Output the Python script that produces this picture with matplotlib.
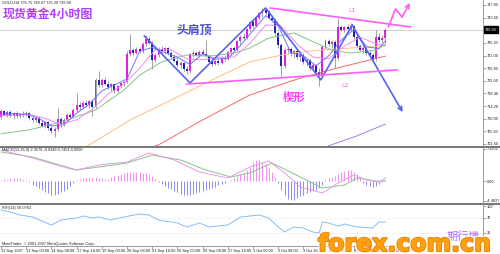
import matplotlib
matplotlib.use("Agg")
import matplotlib.pyplot as plt
import numpy as np
from matplotlib import patheffects
from matplotlib.lines import Line2D

# ---- candles (4h gold), bar index 0..122 ----
opens = [710.5, 712.4, 711.3, 712.2, 711.0, 711.8, 710.8, 711.6, 711.2, 712.0,
         710.1, 709.6, 710.3, 708.7, 707.6, 708.8, 706.9, 705.8, 706.5, 709.8,
         708.1, 709.7, 711.2, 710.5, 712.9, 714.6, 713.8, 715.2, 714.5, 715.8,
         713.9, 722.8, 721.3, 722.9, 721.7, 720.4, 721.5, 719.3, 720.8, 721.9,
         722.2, 731.6, 732.8, 731.9, 733.2, 732.4, 735.0, 736.6, 735.3, 729.4,
         731.3, 733.2, 732.6, 733.4, 731.8, 730.4, 729.2, 727.9, 728.6, 726.5,
         725.7, 731.4, 731.9, 731.2, 732.1, 731.5, 731.0, 728.9, 728.3, 729.2,
         728.6, 730.3, 729.8, 732.1, 733.5, 733.0, 735.7, 737.2, 736.8, 739.8,
         742.0, 740.9, 743.5, 745.0, 746.3, 745.1, 743.6, 742.8, 738.4, 734.4,
         727.6, 732.9, 733.3, 731.6, 732.4, 730.5, 731.2, 728.8, 729.4, 726.9,
         727.7, 725.4, 724.3, 733.9, 735.9, 735.0, 735.6, 730.2, 740.4, 739.6,
         740.5, 739.9, 740.8, 737.2, 734.1, 733.0, 733.6, 731.8, 731.2, 729.8,
         737.3, 736.2, 736.75]
closes = [712.4, 711.3, 712.2, 711.0, 711.8, 710.8, 711.6, 711.2, 712.0, 710.1,
          709.6, 710.3, 708.7, 707.6, 708.8, 706.9, 705.8, 706.5, 709.8, 708.1,
          709.7, 711.2, 710.5, 712.9, 714.6, 713.8, 715.2, 714.5, 715.8, 713.9,
          722.8, 721.3, 722.9, 721.7, 720.4, 721.5, 719.3, 720.8, 721.9, 722.2,
          731.6, 732.8, 731.9, 733.2, 732.4, 735.0, 736.6, 735.3, 729.4, 731.3,
          733.2, 732.6, 733.4, 731.8, 730.4, 729.2, 727.9, 728.6, 726.5, 725.7,
          731.4, 731.9, 731.2, 732.1, 731.5, 731.0, 728.9, 728.3, 729.2, 728.6,
          730.3, 729.8, 732.1, 733.5, 733.0, 735.7, 737.2, 736.8, 739.8, 742.0,
          740.9, 743.5, 745.0, 746.3, 745.1, 743.6, 742.8, 738.4, 734.4, 727.6,
          732.9, 733.3, 731.6, 732.4, 730.5, 731.2, 728.8, 729.4, 726.9, 727.7,
          725.4, 724.3, 733.9, 735.9, 735.0, 735.6, 730.2, 740.4, 739.6, 740.5,
          739.9, 740.8, 737.2, 734.1, 733.0, 733.6, 731.8, 731.2, 729.8, 737.3,
          736.2, 736.75, 739.6]
highs = [713.2, 713.0, 712.8, 712.9, 712.1, 712.5, 712.0, 712.4, 712.6, 712.3,
         711.2, 710.9, 711.0, 709.5, 709.3, 709.4, 707.8, 707.2, 713.5, 710.5,
         710.2, 711.8, 712.0, 713.4, 718.5, 715.5, 715.8, 716.1, 716.3, 716.4,
         723.5, 726.0, 723.4, 723.8, 722.6, 721.9, 722.0, 721.2, 722.3, 722.5,
         732.4, 738.0, 733.5, 733.7, 734.0, 735.5, 737.9, 737.4, 735.8, 731.8,
         733.9, 734.1, 733.8, 734.0, 732.5, 731.2, 730.4, 729.2, 729.0, 727.6,
         731.9, 732.9, 732.6, 732.7, 733.2, 736.0, 731.6, 730.1, 729.6, 729.8,
         730.8, 731.2, 732.6, 733.9, 734.2, 736.1, 737.8, 738.4, 740.3, 742.6,
         743.2, 743.9, 745.6, 746.9, 746.8, 746.0, 744.5, 743.5, 739.0, 735.2,
         733.5, 734.0, 733.8, 733.0, 733.1, 731.8, 731.7, 730.0, 729.9, 728.4,
         728.2, 726.8, 734.5, 736.6, 736.4, 736.2, 736.0, 743.6, 741.3, 740.9,
         741.4, 741.8, 741.2, 737.8, 735.0, 734.2, 734.0, 732.9, 731.9, 739.5,
         738.6, 737.8, 740.07]
lows = [709.8, 710.9, 710.6, 710.5, 709.9, 710.3, 710.1, 710.7, 710.8, 709.6,
        709.0, 708.8, 708.2, 707.1, 707.0, 706.2, 705.1, 703.9, 705.9, 707.4,
        707.5, 709.0, 709.9, 710.2, 712.3, 713.0, 713.1, 714.0, 713.7, 710.8,
        713.5, 720.6, 720.5, 721.2, 719.8, 719.1, 718.6, 718.9, 720.2, 720.9,
        721.8, 730.9, 731.2, 731.4, 731.8, 732.0, 734.2, 734.8, 726.5, 728.9,
        730.6, 732.0, 731.5, 731.3, 729.9, 728.7, 727.3, 726.8, 725.9, 724.8,
        725.3, 730.6, 730.8, 730.5, 731.0, 730.4, 728.4, 727.6, 727.9, 727.8,
        728.1, 729.2, 729.4, 731.3, 732.4, 732.6, 735.0, 736.1, 736.4, 739.1,
        740.3, 740.5, 742.8, 743.9, 744.4, 743.0, 742.0, 737.6, 733.6, 723.9,
        727.0, 731.5, 731.0, 730.2, 730.0, 729.3, 728.2, 727.6, 726.3, 726.2,
        724.9, 721.0, 723.8, 733.2, 734.3, 733.5, 726.9, 729.6, 739.0, 738.8,
        739.4, 739.2, 736.5, 733.5, 732.4, 731.9, 731.3, 730.4, 729.2, 729.1,
        735.6, 735.5, 735.3]
last_price = 739.60

# ---- moving averages (bar, price) ----
ma_fast_bars = [0, 4, 8, 12, 16, 20, 24, 28, 32, 36, 40, 44, 48, 52, 56, 60,
                64, 68, 72, 76, 80, 84, 88, 92, 96, 100, 104, 108, 112, 116, 120, 122]
ma_fast = [711.5, 711.7, 711.5, 710.1, 707.6, 708.0, 711.8, 714.8, 719.3, 721.2,
           723.2, 732.4, 733.7, 732.0, 730.5, 728.0, 731.6, 729.8, 730.0, 734.3,
           739.3, 744.2, 740.9, 732.0, 730.9, 727.6, 730.9, 736.2, 739.6, 733.9,
           733.3, 735.9]
ma_mid_bars = [0, 9, 14, 19, 24, 29, 34, 39, 44, 49, 54, 59, 64, 69, 74, 79,
               84, 89, 94, 99, 104, 109, 114, 119, 122]
ma_mid = [711.0, 711.4, 710.1, 708.2, 709.6, 713.2, 718.2, 721.5, 726.8, 733.0,
          732.9, 729.9, 729.6, 730.4, 730.5, 735.0, 741.2, 740.8, 734.8, 730.5,
          729.9, 734.1, 737.1, 734.9, 734.3]
ma_green_bars = [0, 9, 19, 30, 39, 44, 51, 59, 66, 74, 79, 85, 93, 105, 111, 119, 122]
ma_green = [705.0, 706.3, 708.9, 712.9, 719.5, 724.5, 728.9, 731.2, 730.8, 731.8,
            733.5, 736.8, 738.5, 732.8, 731.8, 732.8, 734.8]
ma_orange_bars = [18, 28, 41, 54, 67, 79, 92, 101, 111, 122]
ma_orange = [696.0, 701.3, 709.6, 716.2, 722.9, 728.9, 731.8, 732.8, 733.5, 734.2]
ma_red_bars = [40, 50, 64, 79, 95, 108, 122]
ma_red = [697.5, 701.3, 709.6, 717.9, 723.5, 727.2, 730.8]
ma_purple_bars = [100, 104, 113, 122]
ma_purple = [699.0, 701.0, 704.3, 708.2]

# ---- hand-drawn pattern lines (bar, price) ----
hs_bars = [45.5, 60, 84, 101.5, 111.5, 127.5]
hs_prices = [737.5, 721.9, 746.8, 722.9, 741.1, 712.2]
l1_bars = [85.5, 130]
l1_prices = [746.8, 740.5]
l2_bars = [59, 125.7]
l2_prices = [721.5, 726.2]
up_bars = [123, 125.2, 127.3, 129.8]
up_prices = [740.5, 746.5, 743.8, 748.5]

# ---- MACD ----
macd_hist = [0.3, 0.4, 0.3, 0.5, 0.6, 0.7, 0.6, 0.5, 0.3, -0.3,
             -0.8, -1.2, -1.6, -2.0, -2.4, -2.8, -3.1, -3.2, -2.9, -2.6,
             -2.2, -1.7, -1.1, -0.5, 0.2, 0.4, 0.6, 0.7, 0.8, 0.9,
             0.8, 0.7, 0.6, 0.4, 0.5, 0.9, 1.2, 1.4, 1.6, 1.8,
             2.0, 2.0, 2.0, 2.0, 2.0, 1.9, 1.8, 1.6, 1.2, 0.5,
             -0.3, -0.7, -1.1, -1.5, -1.9, -2.3, -2.6, -2.9, -3.1, -3.2,
             -3.2, -3.0, -2.8, -2.6, -2.3, -2.0, -1.8, -1.6, -1.3, -1.0,
             -0.7, -0.4, -0.1, 0.3, 0.7, 1.1, 1.5, 1.9, 2.5, 3.2,
             4.3, 4.8, 4.7, 4.4, 3.9, 3.0, 2.0, 1.0, -0.5, -2.0,
             -3.2, -4.0, -4.3, -4.2, -3.9, -3.5, -3.1, -2.8, -2.5, -2.2,
             -2.0, -1.6, -1.0, 0.3, 0.6, 1.0, 1.2, 1.6, 2.0, 2.3,
             2.5, 2.5, 2.1, 1.5, 0.8, -0.4, -0.8, -1.1, -1.4, -1.2,
             -0.6, -0.2, 0.3]
macd_a_bars = [0, 10, 21, 24, 31, 40, 47, 55, 63, 72, 79, 85, 90, 95, 102, 107,
               112, 116, 120, 122]
macd_a = [7.04, 5.22, 2.95, 2.50, 3.63, 4.31, 6.36, 4.77, 2.04, 0.68, 3.18,
          4.54, 1.82, -1.36, -2.72, -0.45, 1.36, 0.23, -0.23, 0.68]
macd_b_bars = [0, 10, 24, 31, 40, 48, 57, 65, 73, 79, 86, 95, 102, 109, 113, 119, 122]
macd_b = [6.58, 5.45, 2.50, 3.18, 4.09, 5.90, 4.77, 2.50, 0.91, 1.82, 4.09,
          0.91, -1.59, -0.91, 0.68, 0.0, 0.0]

# ---- RSI(14) ----
rsi_bars = [0, 3, 6, 10, 16, 19, 24, 26, 29, 31, 35, 39, 44, 47, 50, 56, 59, 63,
            66, 72, 76, 79, 82, 85, 88, 90, 93, 96, 99, 101, 102, 104, 107, 109,
            113, 118, 120, 122]
rsi = [89.8, 84.6, 76.8, 71.6, 50.8, 63.8, 69.0, 74.2, 69.0, 71.6, 63.8, 71.6,
       79.4, 76.8, 63.8, 56.0, 45.6, 56.0, 45.6, 50.8, 71.6, 74.2, 76.8, 69.0,
       45.6, 32.6, 45.6, 43.0, 32.6, 30.0, 58.6, 56.0, 48.2, 53.4, 45.6, 43.0,
       58.6, 58.6]

price_ticks = [701.6, 705.8, 710.0, 714.2, 718.4, 722.6, 726.8, 731.0, 735.2, 743.6, 747.8]
date_tick_bars = [0, 8, 16, 24, 32, 40, 48, 56, 64, 72, 80, 88, 96, 104, 112, 120]
date_labels = ["11 Sep 2007", "13 Sep 00:00", "14 Sep 08:00", "17 Sep 16:00",
               "19 Sep 00:00", "20 Sep 08:00", "21 Sep 16:00", "25 Sep 00:00",
               "26 Sep 08:00", "27 Sep 16:00", "1 Oct 00:00", "2 Oct 08:00",
               "3 Oct 16:00", "5 Oct 00:00", "8 Oct 08:00", "9 Oct 16:00"]

CJK = ["Noto Sans CJK SC", "DejaVu Sans"]
SMALL = dict(fontsize=2.8, family="Liberation Sans", color="#202020")

W, H = 500, 254
fig = plt.figure(figsize=(W / 100, H / 100), dpi=100)
fig.patch.set_facecolor("white")


def px_axes(x0, y0, x1, y1):
    return fig.add_axes([x0 / W, 1 - y1 / H, (x1 - x0) / W, (y1 - y0) / H])


def style_axis(ax):
    for s in ax.spines.values():
        s.set_visible(False)
    ax.set_xlim(-0.32, 153)
    ax.yaxis.tick_right()
    ax.tick_params(axis="y", length=1.8, width=0.4, color="#606060", pad=0.8,
                   labelsize=2.8, labelcolor="#202020")
    ax.tick_params(axis="x", bottom=False, labelbottom=False)


ax = px_axes(0, 0, 483, 146)
ax_macd = px_axes(0, 148, 483, 203)
ax_rsi = px_axes(0, 205, 483, 246)

# main price panel
o = np.array(opens); c = np.array(closes)
h = np.array(highs); l = np.array(lows)
x = np.arange(len(c))
up = c >= o
body = np.where(np.abs(c - o) < 0.35, np.where(up, 0.35, -0.35), c - o)
ax.axhline(last_price, color="#c0c0c0", lw=0.5, zorder=1)
ax.vlines(x, l, h, color="#7c7c7c", lw=0.5, zorder=3)
ax.bar(x[up], body[up], bottom=o[up], width=0.62, color="#e01ee0", lw=0, zorder=4)
ax.bar(x[~up], body[~up], bottom=o[~up], width=0.62, color="#2222b0", lw=0, zorder=4)

ax.plot(ma_purple_bars, ma_purple, color="#a97de6", lw=0.7, zorder=5)
ax.plot(ma_red_bars, ma_red, color="#f36a6a", lw=0.7, zorder=5)
ax.plot(ma_orange_bars, ma_orange, color="#f8c27e", lw=0.7, zorder=5)
ax.plot(ma_green_bars, ma_green, color="#86c486", lw=0.7, zorder=5)
ax.plot(ma_mid_bars, ma_mid, color="#f08cf0", lw=0.7, zorder=5)
ax.plot(ma_fast_bars, ma_fast, color="#7575ff", lw=0.7, zorder=5)

ax.plot(hs_bars[:-1], hs_prices[:-1], color="#5565f2", lw=1.2, zorder=6)
ax.annotate("", xy=(hs_bars[-1], hs_prices[-1]), xytext=(hs_bars[-2], hs_prices[-2]),
            arrowprops=dict(arrowstyle="->", color="#5565f2", lw=1.2,
                            shrinkA=0, shrinkB=0, mutation_scale=7), zorder=6)
ax.plot(l1_bars, l1_prices, color="#ff5cff", lw=1.2, zorder=6)
ax.plot(l2_bars, l2_prices, color="#ff5cff", lw=1.2, zorder=6)
ax.plot(up_bars[:-1], up_prices[:-1], color="#ff5cff", lw=1.2, zorder=6)
ax.annotate("", xy=(up_bars[-1], up_prices[-1]), xytext=(up_bars[-2], up_prices[-2]),
            arrowprops=dict(arrowstyle="->", color="#ff5cff", lw=1.2,
                            shrinkA=0, shrinkB=0, mutation_scale=7),
            annotation_clip=False, zorder=6)

ax.text(61.5, 739.5, "头肩顶", color="#4b4be0", fontsize=8.6, fontweight="bold",
        family=CJK, ha="center", va="center", zorder=7)
ax.text(93, 717.0, "楔形", color="#ff3cff", fontsize=8.2, fontweight="bold",
        family=CJK, ha="center", va="center", zorder=7)
ax.text(111.4, 746.1, "L1", color="#ff5cff", fontsize=4.5, ha="center", va="center", zorder=7)
ax.text(109.2, 720.9, "L2", color="#ff5cff", fontsize=4.5, ha="center", va="center", zorder=7)

ax.set_ylim(700.93, 749.46)
style_axis(ax)
ax.set_yticks(price_ticks)
ax.set_yticklabels([f"{v:.2f}" for v in price_ticks], family="Liberation Sans")
ax.text(1.004, last_price, f"{last_price:.2f}", transform=ax.get_yaxis_transform(),
        fontsize=2.8, family="Liberation Sans", color="white", ha="left", va="center",
        bbox=dict(boxstyle="square,pad=0.3", fc="black", ec="black"), clip_on=False)

# MACD panel
hist = np.array(macd_hist)
ax_macd.vlines(x, 0, hist, colors=np.where(hist >= 0, "#f58cf5", "#8c8cf5"), lw=0.7)
ax_macd.plot(macd_b_bars, macd_b, color="#86c486", lw=0.7)
ax_macd.plot(macd_a_bars, macd_a, color="#e79ae7", lw=0.7)
ax_macd.set_ylim(-4.99, 7.49)
style_axis(ax_macd)
ax_macd.set_yticks([7.3251, 0.0, -4.4837])
ax_macd.set_yticklabels(["7.3251", "0.00", "-4.4837"], family="Liberation Sans")

# RSI panel
ax_rsi.axhline(70, color="#c8c8c8", lw=0.4, ls=(0, (1, 2)))
ax_rsi.axhline(30, color="#c8c8c8", lw=0.4, ls=(0, (1, 2)))
ax_rsi.plot(rsi_bars, rsi, color="#86bdf2", lw=0.7)
ax_rsi.set_ylim(-3.8, 102.8)
style_axis(ax_rsi)
ax_rsi.set_yticks([100, 70, 30])
ax_rsi.set_yticklabels(["100", "70", "30"], family="Liberation Sans")
ax_rsi.tick_params(axis="x", bottom=True, labelbottom=True, length=1.8, width=0.4,
                   color="#606060", pad=0.6, labelsize=2.8, labelcolor="#202020")
ax_rsi.set_xticks(date_tick_bars)
ax_rsi.set_xticklabels(date_labels, ha="left", family="Liberation Sans")

# frame lines
fig.add_artist(Line2D([0, 1], [1 - 146.8 / H] * 2, color="#777777", lw=1.4))
fig.add_artist(Line2D([0, 1], [1 - 203.8 / H] * 2, color="#777777", lw=1.4))
fig.add_artist(Line2D([0, 483 / W], [1 - 246.2 / H] * 2, color="#8a8a8a", lw=0.6))
fig.add_artist(Line2D([483 / W] * 2, [1 - 246.2 / H, 1], color="#8a8a8a", lw=0.6))

# header texts
fig.text(2 / W, 1 - 3 / H, "GOLD,H4 736.75 740.07 735.30 739.60", va="center", **SMALL)
fig.text(2 / W, 1 - 150.5 / H, "MACD(12,26,9) 2.3579 -0.0349 0.7454 0.0000", va="center", **SMALL)
fig.text(2 / W, 1 - 207.5 / H, "RSI(14) 58.0763", va="center", **SMALL)
fig.text(2 / W, 1 - 243.5 / H, "MetaTrader, © 2001-2007 MetaQuotes Software Corp.", va="center", **SMALL)
fig.text(3 / W, 1 - 14 / H, "现货黄金4小时图", color="#b23cff", fontsize=8.6,
         fontweight="bold", family=CJK, ha="left", va="center")

# watermark
fig.text(463 / W, 1 - 237 / H, "期行情", color="#b06cff", fontsize=8, family=CJK,
         ha="center", va="center", zorder=15)
fig.text(318 / W, 1 - 251 / H, "forex.com.cn", fontsize=17, fontweight="bold",
         family="DejaVu Sans", color="#ffa010", ha="left", va="baseline", zorder=20,
         path_effects=[patheffects.Stroke(linewidth=3, foreground="white"),
                       patheffects.Stroke(linewidth=1.4, foreground="#ec8400"),
                       patheffects.Normal()])

fig.savefig("out.png", dpi=100, facecolor="white")
plt.close(fig)
